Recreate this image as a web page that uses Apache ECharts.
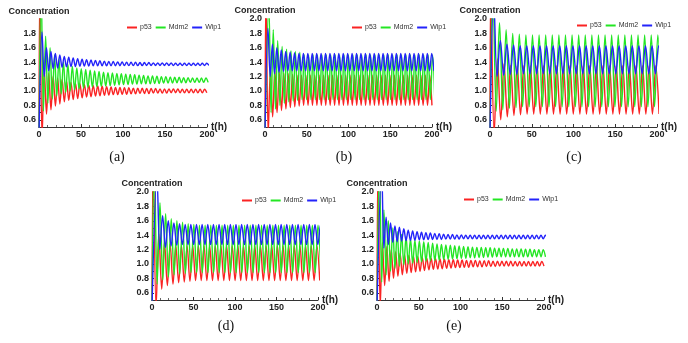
<!DOCTYPE html>
<html>
<head>
    <meta charset="utf-8" />
    <title>p53 Mdm2 Wip1</title>
    <script src="https://cdn.jsdelivr.net/npm/echarts@6/dist/echarts.min.js"></script>
</head>
<body style="margin:0">
    <div id="main" style="width:688px;height:343px"></div>
    <script type="text/javascript">
        // oscillation period (h) of each panel, and time of the first peak of p53 / Mdm2 / Wip1
        var periods = [5.3, 5.3, 7.9, 6.8, 5.3];
        var firstPeak = [
            [1.0, 2.6, 3.6],
            [1.2, 4.6, 3.6],
            [1.0, 3.5, 4.5],
            [1.5, 2.8, 6.0],
            [1.2, 3.0, 5.6]
        ];
        var startValues = [0.4, 0.4, 0.4];
        var names = ["p53", "Mdm2", "Wip1"];
        var captions = ["(a)", "(b)", "(c)", "(d)", "(e)"];

        // (a) peaks (P) and troughs (Q)
        var aRedP = [2.4, 1.30, 1.25, 1.21, 1.18, 1.16, 1.14, 1.12, 1.11, 1.10, 1.09, 1.08, 1.075, 1.07, 1.065, 1.06, 1.055, 1.05, 1.05, 1.045, 1.045, 1.04, 1.04, 1.04, 1.035, 1.035, 1.035, 1.03, 1.03, 1.03, 1.03, 1.03, 1.025, 1.025, 1.025, 1.025, 1.025, 1.025];
        var aRedQ = [0.35, 0.68, 0.74, 0.79, 0.82, 0.85, 0.87, 0.88, 0.895, 0.905, 0.915, 0.92, 0.93, 0.935, 0.94, 0.945, 0.95, 0.95, 0.955, 0.955, 0.96, 0.96, 0.965, 0.965, 0.965, 0.97, 0.97, 0.97, 0.97, 0.975, 0.975, 0.975, 0.975, 0.975, 0.975, 0.975, 0.975, 0.975];
        var aGreenP = [2.4, 1.76, 1.6, 1.5, 1.44, 1.4, 1.37, 1.34, 1.32, 1.31, 1.3, 1.29, 1.28, 1.27, 1.26, 1.255, 1.25, 1.245, 1.24, 1.235, 1.23, 1.225, 1.22, 1.215, 1.21, 1.21, 1.205, 1.2, 1.2, 1.195, 1.19, 1.19, 1.185, 1.185, 1.18, 1.18, 1.18, 1.18];
        var aGreenQ = [0.72, 0.83, 0.89, 0.93, 0.96, 0.98, 1.0, 1.02, 1.03, 1.04, 1.05, 1.055, 1.06, 1.065, 1.07, 1.075, 1.08, 1.085, 1.09, 1.09, 1.095, 1.095, 1.1, 1.1, 1.1, 1.105, 1.105, 1.11, 1.11, 1.11, 1.115, 1.115, 1.115, 1.12, 1.12, 1.12, 1.12, 1.12];
        var aBlueP = [1.82, 1.6, 1.55, 1.52, 1.5, 1.48, 1.47, 1.46, 1.45, 1.44, 1.435, 1.43, 1.425, 1.42, 1.415, 1.41, 1.41, 1.405, 1.405, 1.4, 1.4, 1.4, 1.395, 1.395, 1.395, 1.39, 1.39, 1.39, 1.39, 1.39, 1.385, 1.385, 1.385, 1.385, 1.385, 1.385, 1.385, 1.385];
        var aBlueQ = [1.2, 1.28, 1.31, 1.32, 1.33, 1.335, 1.34, 1.34, 1.345, 1.345, 1.345, 1.35, 1.35, 1.35, 1.35, 1.35, 1.35, 1.35, 1.352, 1.352, 1.352, 1.352, 1.352, 1.355, 1.355, 1.355, 1.355, 1.355, 1.355, 1.355, 1.355, 1.355, 1.355, 1.355, 1.355, 1.355, 1.355, 1.355];

        // (b)
        var bRedP = [2.4, 1.3, 1.28, 1.26, 1.25, 1.24, 1.23, 1.22, 1.22, 1.22, 1.22, 1.22, 1.22, 1.22, 1.22, 1.22, 1.22, 1.22, 1.22, 1.22, 1.22, 1.22, 1.22, 1.22, 1.22, 1.22, 1.22, 1.22, 1.22, 1.22, 1.22, 1.22, 1.22, 1.22, 1.22, 1.22, 1.22, 1.22];
        var bRedQ = [0.4, 0.64, 0.7, 0.73, 0.75, 0.77, 0.78, 0.79, 0.8, 0.8, 0.8, 0.8, 0.8, 0.8, 0.8, 0.8, 0.8, 0.8, 0.8, 0.8, 0.8, 0.8, 0.8, 0.8, 0.8, 0.8, 0.8, 0.8, 0.8, 0.8, 0.8, 0.8, 0.8, 0.8, 0.8, 0.8, 0.8, 0.8];
        var bGreenP = [2.2, 1.85, 1.7, 1.62, 1.58, 1.56, 1.55, 1.54, 1.5, 1.5, 1.5, 1.5, 1.5, 1.5, 1.5, 1.5, 1.5, 1.5, 1.5, 1.5, 1.5, 1.5, 1.5, 1.5, 1.5, 1.5, 1.5, 1.5, 1.5, 1.5, 1.5, 1.5, 1.5, 1.5, 1.5, 1.5, 1.5, 1.5];
        var bGreenQ = [0.7, 0.75, 0.8, 0.83, 0.85, 0.86, 0.87, 0.88, 0.88, 0.88, 0.88, 0.88, 0.88, 0.88, 0.88, 0.88, 0.88, 0.88, 0.88, 0.88, 0.88, 0.88, 0.88, 0.88, 0.88, 0.88, 0.88, 0.88, 0.88, 0.88, 0.88, 0.88, 0.88, 0.88, 0.88, 0.88, 0.88, 0.88];
        var bBlueP = [1.87, 1.65, 1.6, 1.57, 1.55, 1.54, 1.53, 1.52, 1.52, 1.52, 1.52, 1.52, 1.52, 1.52, 1.52, 1.52, 1.52, 1.52, 1.52, 1.52, 1.52, 1.52, 1.52, 1.52, 1.52, 1.52, 1.52, 1.52, 1.52, 1.52, 1.52, 1.52, 1.52, 1.52, 1.52, 1.52, 1.52, 1.52];
        var bBlueQ = [1.2, 1.24, 1.26, 1.27, 1.28, 1.28, 1.28, 1.28, 1.28, 1.28, 1.28, 1.28, 1.28, 1.28, 1.28, 1.28, 1.28, 1.28, 1.28, 1.28, 1.28, 1.28, 1.28, 1.28, 1.28, 1.28, 1.28, 1.28, 1.28, 1.28, 1.28, 1.28, 1.28, 1.28, 1.28, 1.28, 1.28, 1.28];

        // (c)
        var cRedP = [2.4, 1.45, 1.38, 1.36, 1.35, 1.35, 1.35, 1.35, 1.35, 1.35, 1.35, 1.35, 1.35, 1.35, 1.35, 1.35, 1.35, 1.35, 1.35, 1.35, 1.35, 1.35, 1.35, 1.35, 1.35, 1.35];
        var cRedQ = [0.4, 0.6, 0.64, 0.66, 0.67, 0.68, 0.68, 0.68, 0.68, 0.68, 0.68, 0.68, 0.68, 0.68, 0.68, 0.68, 0.68, 0.68, 0.68, 0.68, 0.68, 0.68, 0.68, 0.68, 0.68, 0.68];
        var cGreenP = [2.4, 1.95, 1.85, 1.8, 1.79, 1.78, 1.78, 1.78, 1.78, 1.78, 1.78, 1.78, 1.78, 1.78, 1.78, 1.78, 1.78, 1.78, 1.78, 1.78, 1.78, 1.78, 1.78, 1.78, 1.78, 1.78];
        var cGreenQ = [0.72, 0.74, 0.76, 0.77, 0.78, 0.78, 0.78, 0.78, 0.78, 0.78, 0.78, 0.78, 0.78, 0.78, 0.78, 0.78, 0.78, 0.78, 0.78, 0.78, 0.78, 0.78, 0.78, 0.78, 0.78, 0.78];
        var cBlueP = [2.3, 1.7, 1.65, 1.64, 1.63, 1.63, 1.63, 1.63, 1.63, 1.63, 1.63, 1.63, 1.63, 1.63, 1.63, 1.63, 1.63, 1.63, 1.63, 1.63, 1.63, 1.63, 1.63, 1.63, 1.63, 1.63];
        var cBlueQ = [1.2, 1.22, 1.23, 1.23, 1.24, 1.24, 1.24, 1.24, 1.24, 1.24, 1.24, 1.24, 1.24, 1.24, 1.24, 1.24, 1.24, 1.24, 1.24, 1.24, 1.24, 1.24, 1.24, 1.24, 1.24, 1.24];

        // (d)
        var dRedP = [2.4, 1.42, 1.3, 1.28, 1.26, 1.25, 1.25, 1.25, 1.25, 1.25, 1.25, 1.25, 1.25, 1.25, 1.25, 1.25, 1.25, 1.25, 1.25, 1.25, 1.25, 1.25, 1.25, 1.25, 1.25, 1.25, 1.25, 1.25, 1.25, 1.25];
        var dRedQ = [0.4, 0.65, 0.7, 0.72, 0.74, 0.75, 0.76, 0.77, 0.77, 0.77, 0.77, 0.77, 0.77, 0.77, 0.77, 0.77, 0.77, 0.77, 0.77, 0.77, 0.77, 0.77, 0.77, 0.77, 0.77, 0.77, 0.77, 0.77, 0.77, 0.77];
        var dGreenP = [2.4, 1.85, 1.7, 1.63, 1.6, 1.58, 1.56, 1.55, 1.54, 1.54, 1.54, 1.54, 1.54, 1.54, 1.54, 1.54, 1.54, 1.54, 1.54, 1.54, 1.54, 1.54, 1.54, 1.54, 1.54, 1.54, 1.54, 1.54, 1.54, 1.54];
        var dGreenQ = [0.72, 0.78, 0.82, 0.85, 0.86, 0.87, 0.88, 0.88, 0.88, 0.88, 0.88, 0.88, 0.88, 0.88, 0.88, 0.88, 0.88, 0.88, 0.88, 0.88, 0.88, 0.88, 0.88, 0.88, 0.88, 0.88, 0.88, 0.88, 0.88, 0.88];
        var dBlueP = [2.2, 1.67, 1.6, 1.57, 1.56, 1.55, 1.55, 1.55, 1.55, 1.55, 1.55, 1.55, 1.55, 1.55, 1.55, 1.55, 1.55, 1.55, 1.55, 1.55, 1.55, 1.55, 1.55, 1.55, 1.55, 1.55, 1.55, 1.55, 1.55, 1.55];
        var dBlueQ = [1.2, 1.23, 1.25, 1.26, 1.27, 1.27, 1.27, 1.27, 1.27, 1.27, 1.27, 1.27, 1.27, 1.27, 1.27, 1.27, 1.27, 1.27, 1.27, 1.27, 1.27, 1.27, 1.27, 1.27, 1.27, 1.27, 1.27, 1.27, 1.27, 1.27];

        // (e)
        var eRedP = [2.4, 1.3, 1.24, 1.2, 1.17, 1.15, 1.13, 1.12, 1.11, 1.1, 1.09, 1.085, 1.08, 1.075, 1.07, 1.065, 1.06, 1.06, 1.055, 1.055, 1.05, 1.05, 1.05, 1.045, 1.045, 1.045, 1.04, 1.04, 1.04, 1.04, 1.04, 1.035, 1.035, 1.035, 1.035, 1.035, 1.035, 1.035];
        var eRedQ = [0.4, 0.7, 0.76, 0.8, 0.83, 0.85, 0.87, 0.88, 0.89, 0.9, 0.91, 0.92, 0.925, 0.93, 0.935, 0.94, 0.945, 0.95, 0.95, 0.955, 0.955, 0.96, 0.96, 0.96, 0.965, 0.965, 0.965, 0.97, 0.97, 0.97, 0.97, 0.97, 0.97, 0.97, 0.97, 0.97, 0.97, 0.97];
        var eGreenP = [2.4, 1.75, 1.6, 1.5, 1.45, 1.41, 1.38, 1.35, 1.33, 1.32, 1.31, 1.3, 1.29, 1.28, 1.27, 1.265, 1.26, 1.255, 1.25, 1.245, 1.24, 1.235, 1.23, 1.23, 1.225, 1.225, 1.22, 1.22, 1.215, 1.215, 1.21, 1.21, 1.21, 1.205, 1.205, 1.2, 1.2, 1.2];
        var eGreenQ = [0.75, 0.85, 0.9, 0.94, 0.97, 0.99, 1.0, 1.01, 1.02, 1.03, 1.04, 1.045, 1.05, 1.055, 1.06, 1.065, 1.07, 1.075, 1.08, 1.08, 1.085, 1.085, 1.09, 1.09, 1.095, 1.095, 1.1, 1.1, 1.1, 1.1, 1.1, 1.1, 1.1, 1.1, 1.1, 1.1, 1.1, 1.1];
        var eBlueP = [2.3, 1.65, 1.57, 1.53, 1.51, 1.49, 1.47, 1.46, 1.45, 1.44, 1.435, 1.43, 1.425, 1.42, 1.415, 1.41, 1.41, 1.405, 1.405, 1.4, 1.4, 1.4, 1.4, 1.4, 1.4, 1.4, 1.4, 1.4, 1.4, 1.4, 1.4, 1.4, 1.4, 1.4, 1.4, 1.4, 1.4, 1.4];
        var eBlueQ = [1.22, 1.27, 1.3, 1.31, 1.32, 1.325, 1.33, 1.33, 1.335, 1.335, 1.34, 1.34, 1.34, 1.34, 1.345, 1.345, 1.345, 1.345, 1.35, 1.35, 1.35, 1.35, 1.35, 1.35, 1.35, 1.35, 1.35, 1.35, 1.35, 1.35, 1.35, 1.35, 1.35, 1.35, 1.35, 1.35, 1.35, 1.35];

        var panelData = [
            [[aRedP, aRedQ], [aGreenP, aGreenQ], [aBlueP, aBlueQ]],
            [[bRedP, bRedQ], [bGreenP, bGreenQ], [bBlueP, bBlueQ]],
            [[cRedP, cRedQ], [cGreenP, cGreenQ], [cBlueP, cBlueQ]],
            [[dRedP, dRedQ], [dGreenP, dGreenQ], [dBlueP, dBlueQ]],
            [[eRedP, eRedQ], [eGreenP, eGreenQ], [eBlueP, eBlueQ]]
        ];

        // layout of the five panels
        var grids = [
            { left: 39, top: 19, width: 168, height: 108 },
            { left: 265, top: 19, width: 167, height: 108 },
            { left: 490, top: 19, width: 167, height: 108 },
            { left: 152, top: 192, width: 166, height: 108 },
            { left: 377, top: 192, width: 167, height: 108 }
        ];
        var legendPos = [[127, 24], [352, 24], [577, 22], [242, 197], [464, 196]];
        var captionPos = [[117, 157], [344, 157], [574, 157], [226, 326], [454, 326]];
        var colors = ["rgb(250,35,35)", "rgb(35,230,35)", "rgb(35,35,250)"];

        function buildLine(start, t0, T, peaks, troughs) {
            var pts = [[0, start]];
            var n = Math.max(peaks.length, troughs.length);
            for (var i = 0; i < n; i++) {
                if (i < peaks.length) pts.push([t0 + i * T, peaks[i]]);
                if (i < troughs.length) pts.push([t0 + i * T + T / 2, troughs[i]]);
            }
            return pts;
        }

        var labelFont = { fontFamily: "Liberation Sans", fontWeight: "bold", fontSize: 9, color: "#222" };

        var option = {
            backgroundColor: "#fff",
            animation: false,
            grid: [],
            xAxis: [],
            yAxis: [],
            legend: [],
            series: [],
            graphic: []
        };

        grids.forEach(function (g, p) {
            option.grid.push(g);
            option.xAxis.push({
                type: "value", gridIndex: p, min: 0, max: 200, interval: 50,
                axisLine: { onZero: false, lineStyle: { color: "#333", width: 1 } },
                axisTick: { inside: true, length: 3, lineStyle: { color: "#333" } },
                minorTick: { show: true, splitNumber: 5, length: 2, lineStyle: { color: "#666" } },
                axisLabel: Object.assign({ margin: 3 }, labelFont),
                splitLine: { show: false }
            });
            option.yAxis.push({
                type: "value", gridIndex: p, min: 0.5, max: 2, interval: 0.1,
                name: "Concentration", nameLocation: "end", nameGap: 3,
                nameTextStyle: Object.assign({ align: "center" }, labelFont),
                axisLine: { onZero: false, lineStyle: { color: "#333", width: 1 } },
                axisTick: { inside: true, length: 2, lineStyle: { color: "#333" } },
                axisLabel: Object.assign({
                    margin: 3,
                    formatter: function (v) {
                        var k = Math.round(v * 10);
                        if (k % 2 === 1) return "";
                        if (p === 0 && k === 20) return "";
                        return (k / 10).toFixed(1);
                    }
                }, labelFont),
                splitLine: { show: false }
            });
            option.legend.push({
                left: legendPos[p][0], top: legendPos[p][1],
                data: names, icon: "rect", itemWidth: 10, itemHeight: 2, itemGap: 4,
                padding: 0, selectedMode: false,
                textStyle: { fontFamily: "Liberation Sans", fontSize: 7, color: "#333", padding: [0, 0, 0, -2] }
            });
            for (var s = 0; s < 3; s++) {
                option.series.push({
                    name: names[s], type: "line", xAxisIndex: p, yAxisIndex: p,
                    data: buildLine(startValues[s], firstPeak[p][s], periods[p], panelData[p][s][0], panelData[p][s][1]),
                    showSymbol: false, smooth: 0.35, clip: true,
                    lineStyle: { color: colors[s], width: 1.4 },
                    itemStyle: { color: colors[s] }
                });
            }
            // x-axis label sits right at the end of the axis, touching "200"
            option.graphic.push({
                type: "text", x: g.left + g.width + 4, y: g.top + g.height,
                style: { text: "t(h)", fontFamily: "Liberation Sans", fontWeight: "bold", fontSize: 10, fill: "#222", align: "left", verticalAlign: "middle" }
            });
            option.graphic.push({
                type: "text", x: captionPos[p][0], y: captionPos[p][1],
                style: { text: captions[p], fontFamily: "Liberation Serif", fontSize: 14, fill: "#111", align: "center", verticalAlign: "middle" }
            });
        });

        var myChart = echarts.init(document.getElementById("main"));
        myChart.setOption(option);
    </script>
</body>
</html>
